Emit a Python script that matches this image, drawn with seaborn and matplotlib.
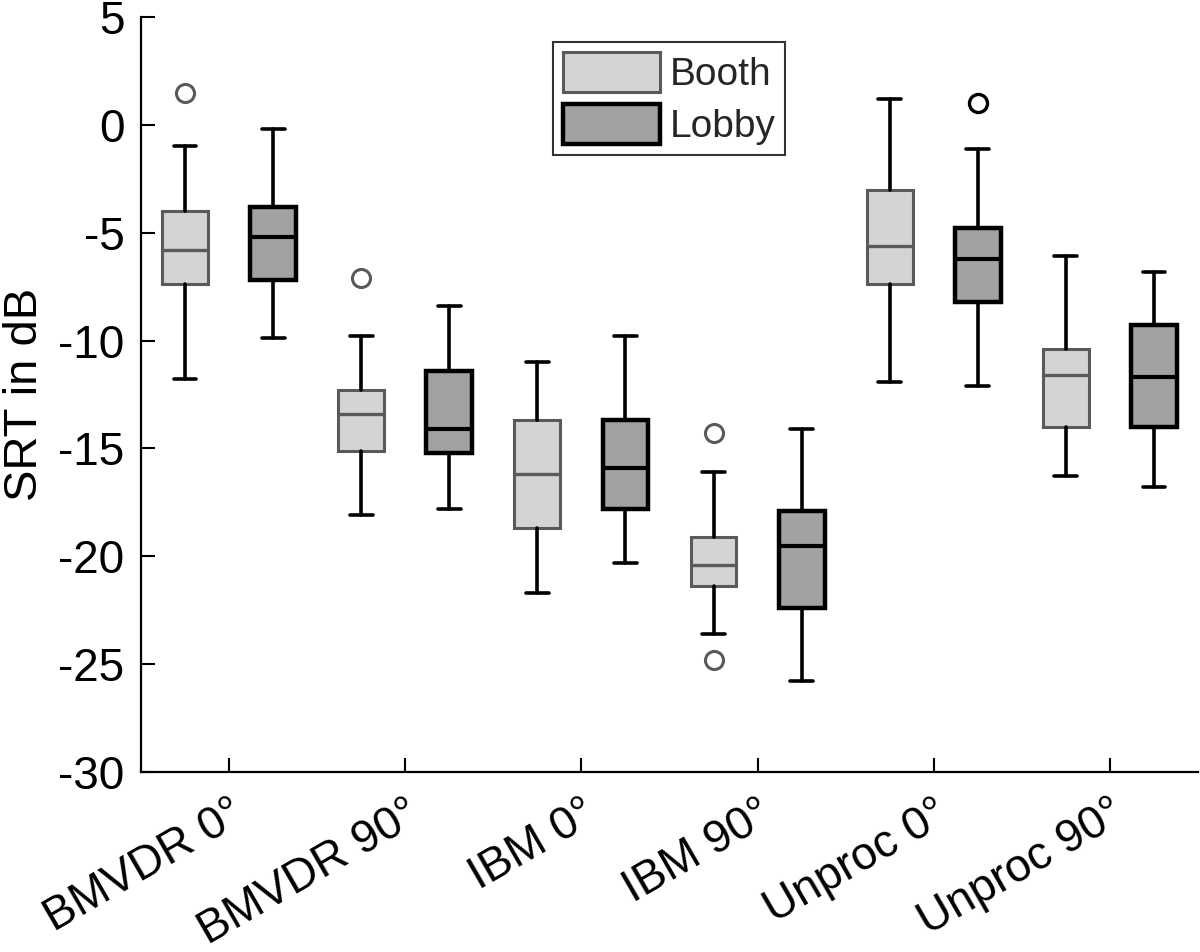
import matplotlib
matplotlib.use("Agg")
import matplotlib.pyplot as plt
import seaborn as sns
from matplotlib.patches import Patch

conditions = ["BMVDR 0°", "BMVDR 90°", "IBM 0°", "IBM 90°", "Unproc 0°", "Unproc 90°"]
rooms = ["Booth", "Lobby"]

# box statistics (SRT in dB)
booth_whislo = [-11.8, -18.1, -21.7, -23.6, -11.9, -16.3]
booth_q1 = [-7.4, -15.1, -18.7, -21.4, -7.4, -14.0]
booth_med = [-5.8, -13.4, -16.2, -20.4, -5.6, -11.6]
booth_q3 = [-4.0, -12.3, -13.7, -19.1, -3.0, -10.4]
booth_whishi = [-1.0, -9.8, -11.0, -16.1, 1.2, -6.1]
booth_fliers = [[1.5], [-7.1], [], [-14.3, -24.8], [], []]

lobby_whislo = [-9.9, -17.8, -20.3, -25.8, -12.1, -16.8]
lobby_q1 = [-7.2, -15.2, -17.8, -22.4, -8.2, -14.0]
lobby_med = [-5.2, -14.1, -15.9, -19.5, -6.2, -11.7]
lobby_q3 = [-3.8, -11.4, -13.7, -17.9, -4.8, -9.3]
lobby_whishi = [-0.2, -8.4, -9.8, -14.1, -1.1, -6.8]
lobby_fliers = [[], [], [], [], [1.0], []]

sns.set_theme(style="ticks")
plt.rcParams['font.family'] = ['Liberation Sans', 'DejaVu Sans']
plt.rcParams['axes.unicode_minus'] = False


def make_stats(lo, q1, med, q3, hi, fl):
    return [dict(whislo=lo[i], q1=q1[i], med=med[i], q3=q3[i], whishi=hi[i],
                 fliers=fl[i], label=conditions[i]) for i in range(len(conditions))]


booth_stats = make_stats(booth_whislo, booth_q1, booth_med, booth_q3, booth_whishi, booth_fliers)
lobby_stats = make_stats(lobby_whislo, lobby_q1, lobby_med, lobby_q3, lobby_whishi, lobby_fliers)

fig = plt.figure(figsize=(12, 9.52), dpi=100)
ax = fig.add_axes([141 / 1200, 1 - 772 / 952, 1057 / 1200, 755 / 952])

x = list(range(1, len(conditions) + 1))
booth_col = "#d4d4d4"
lobby_col = "#a2a2a2"
booth_edge = "#5a5a5a"

ax.bxp(booth_stats, positions=[p - 0.25 for p in x], widths=0.26, capwidths=0.13,
       patch_artist=True, manage_ticks=False,
       boxprops=dict(facecolor=booth_col, edgecolor=booth_edge, linewidth=2.2),
       whiskerprops=dict(color="black", linewidth=2.6),
       capprops=dict(color="black", linewidth=2.6),
       medianprops=dict(color=booth_edge, linewidth=2.4),
       flierprops=dict(marker="o", markersize=13, markerfacecolor="none",
                       markeredgecolor=booth_edge, markeredgewidth=2.2))

ax.bxp(lobby_stats, positions=[p + 0.25 for p in x], widths=0.26, capwidths=0.13,
       patch_artist=True, manage_ticks=False,
       boxprops=dict(facecolor=lobby_col, edgecolor="black", linewidth=3.2),
       whiskerprops=dict(color="black", linewidth=2.6),
       capprops=dict(color="black", linewidth=2.6),
       medianprops=dict(color="black", linewidth=3.0),
       flierprops=dict(marker="o", markersize=13, markerfacecolor="none",
                       markeredgecolor="black", markeredgewidth=2.4))

ax.set_xlim(0.5, 6.5)
ax.set_ylim(-30, 5)
ax.set_yticks(range(-30, 6, 5))
ax.set_xticks(x)
ax.set_xticklabels(conditions, rotation=30, ha="right", rotation_mode="anchor")
ax.tick_params(axis="both", direction="in", length=10, width=1.5, labelsize=33,
               colors="black")
ax.tick_params(axis="y", pad=12)
ax.tick_params(axis="x", pad=14)
sns.despine(ax=ax)
for s in ["left", "bottom"]:
    ax.spines[s].set_linewidth(1.6)
    ax.spines[s].set_color("black")

ax.set_ylabel("SRT in dB", fontsize=34, color="black", va="center")
ax.yaxis.set_label_coords(-0.1095, 0.5)

handles = [Patch(facecolor=booth_col, edgecolor=booth_edge, linewidth=2.2),
           Patch(facecolor=lobby_col, edgecolor="black", linewidth=3.2)]
leg = ax.legend(handles, rooms, loc="upper left", bbox_to_anchor=(412 / 1057, 1 - 25 / 755),
                fontsize=28, handlelength=2.5, handleheight=1.2, handletextpad=0.25,
                labelspacing=0.3, borderpad=0.25, borderaxespad=0, frameon=True,
                fancybox=False, edgecolor="black")
leg.get_frame().set_linewidth(1.5)

fig.savefig("out.png", dpi=100, facecolor="white")
